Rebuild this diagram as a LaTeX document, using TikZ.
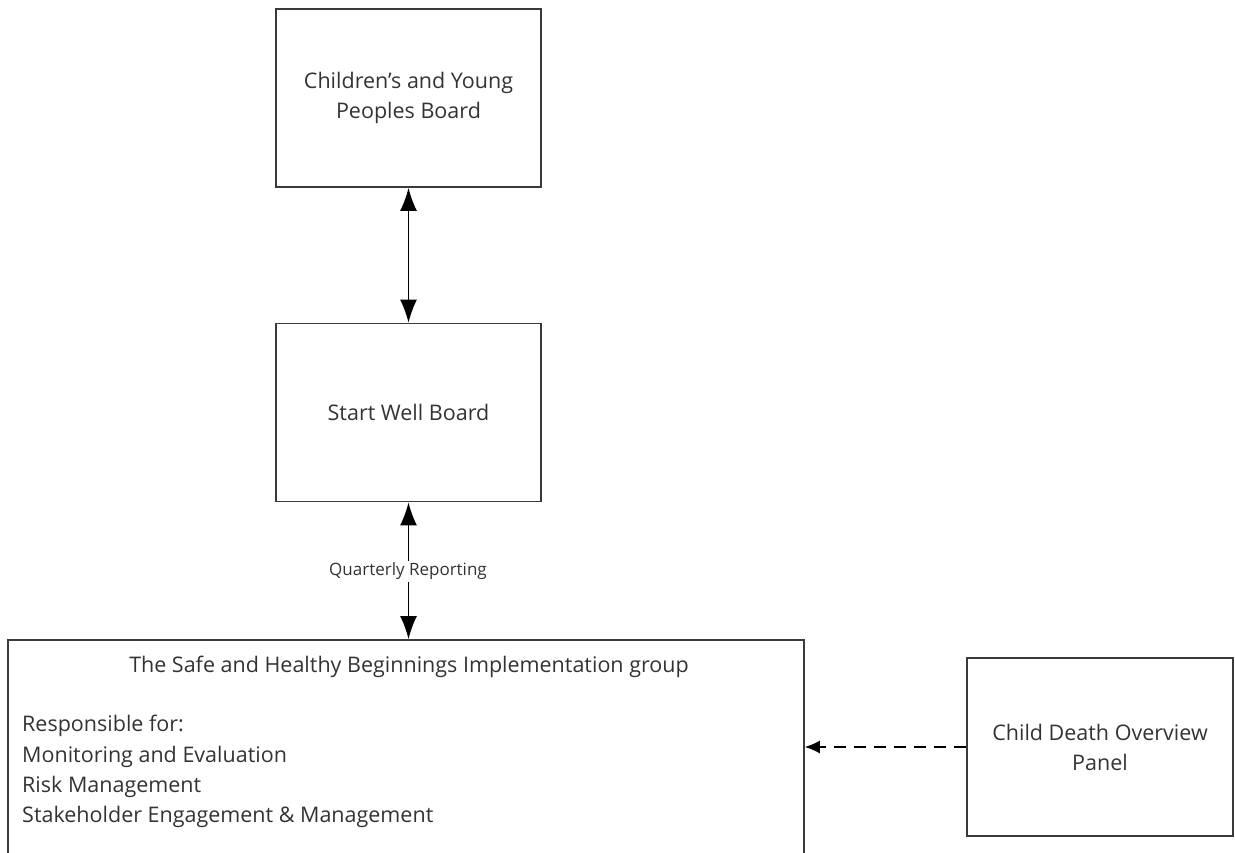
\documentclass[tikz,border=0pt]{standalone}
\usepackage{fontspec}
\setmainfont{Open Sans}
\usepackage{tikz}
\usetikzlibrary{arrows.meta,positioning}
\definecolor{edge}{HTML}{3A3A3A}
\definecolor{ink}{HTML}{333333}
\tikzset{
  every node/.style={font=\fontsize{21.5}{30}\selectfont,text=ink},
  box/.style={draw=edge,line width=1.8pt,align=center,inner sep=0pt,
              minimum width=265pt,minimum height=178pt},
  ar/.style={{Latex[length=23pt,width=17pt]}-{Latex[length=23pt,width=17pt]},
             draw=black,line width=1.2pt},
  faint/.style={-{Latex[length=15pt,width=13pt]},draw=black,line width=1.2pt,
                dash pattern=on 12pt off 8pt},
  lab/.style={font=\fontsize{17}{19}\selectfont,fill=white,inner sep=2pt},
}
\begin{document}
\begin{tikzpicture}[x=1pt,y=-1pt]
\useasboundingbox (0,0) rectangle (1235,852);
\clip (0,0) rectangle (1235,852);

% ---- boards ----
\node[box] (cyp) at (408.5,98) {Children's and Young\\Peoples Board};
\node[box] (sw) at (408.5,412.5) {Start Well Board};

\draw[ar] (cyp.south) -- (sw.north);

% ---- implementation group ----
\node[box,minimum width=796pt,minimum height=270pt,anchor=north] (grp) at (406,639) {};
\node (grpttl) at (409,667) {The Safe and Healthy Beginnings Implementation group};
\node[align=left,anchor=north west,inner sep=0pt,
      font=\fontsize{21.5}{30.4}\selectfont] (grplist) at (22,715)
  {Responsible for:\\
   Monitoring and Evaluation\\
   Risk Management\\
   Stakeholder Engagement \& Management};

\draw[ar] (sw.south) -- (sw.south|-grp.north);
\node[lab] (qr) at (408,571) {Quarterly Reporting};

% ---- panel ----
\node[box,minimum width=266pt] (cdop) at (1100,747) {Child Death Overview\\Panel};
\draw[faint] (cdop.west) -- (cdop.west-|grp.east);

\end{tikzpicture}
\end{document}
